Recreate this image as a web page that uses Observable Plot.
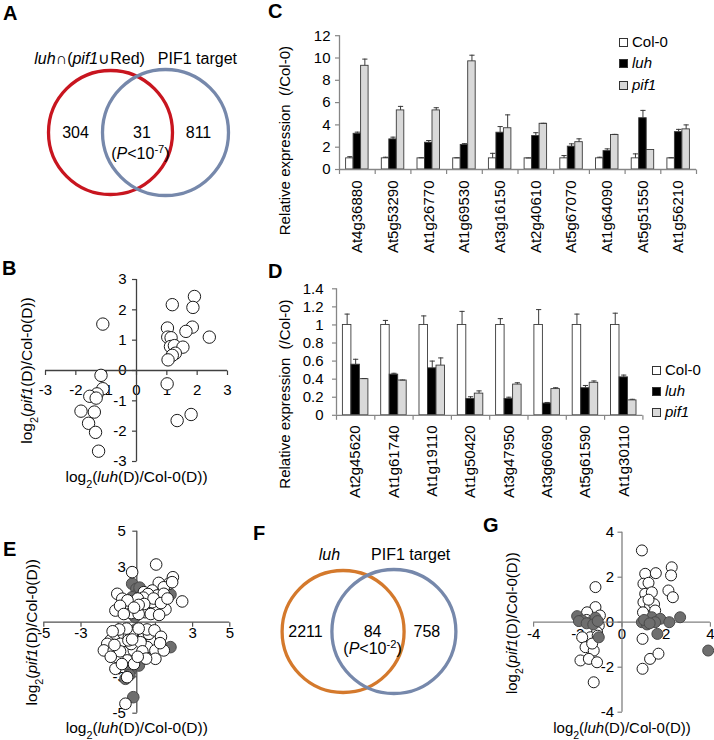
<!DOCTYPE html>
<html><head><meta charset="utf-8">
<script src="https://cdn.jsdelivr.net/npm/d3@7"></script>
<script src="https://cdn.jsdelivr.net/npm/@observablehq/plot@0.6"></script>
<style>
body{margin:0;background:#fff;font-family:"Liberation Sans",Arial,Helvetica,sans-serif;}
#fig{position:relative;width:714px;height:740px;overflow:hidden;background:#fff;}
.letter{position:absolute;font-weight:bold;font-size:20px;line-height:1;color:#000;}
.legend{position:absolute;font-size:15px;color:#000;}
.legend div{height:21.3px;line-height:21.3px;white-space:nowrap;}
.sw{display:inline-block;width:7px;height:7px;border:1px solid #333;margin-right:4px;vertical-align:0px;}
</style></head><body><div id="fig"></div>
<script>
// ---------------- DATA ----------------
// Panel A (Venn)
const vennA_sets = ["*luh*∩(*pif1*∪Red)", "PIF1 target"];
const vennA_counts = ["304", "31", "811"];
const vennA_p = "(*P*<10^-7^)";
// Panel F (Venn)
const vennF_sets = ["*luh*", "PIF1 target"];
const vennF_counts = ["2211", "84", "758"];
const vennF_p = "(*P*<10^-2^)";

// Bar series names
const seriesNames = ["Col-0", "luh", "pif1"];

// Panel C
const genesC = ["At4g36880","At5g53290","At1g26770","At1g69530","At3g16150","At2g40610","At5g67070","At1g64090","At5g51550","At1g56210"];
const colC     = [1, 1, 1, 1, 1, 1, 1, 1, 1, 1];
const colC_err = [0.15, 0.1, 0.05, 0.05, 0.45, 0.03, 0.25, 0.1, 0.4, 0.05];
const luhC     = [3.2, 2.7, 2.4, 2.2, 3.3, 3.0, 2.05, 1.65, 4.6, 3.35];
const luhC_err = [0.15, 0.2, 0.2, 0.12, 0.55, 0.3, 0.25, 0.2, 0.7, 0.25];
const pifC     = [9.3, 5.3, 5.3, 9.7, 3.7, 4.1, 2.45, 3.1, 1.75, 3.6];
const pifC_err = [0.6, 0.36, 0.24, 0.55, 1.2, 0.04, 0.3, 0.05, 0, 0.4];
const yTicksC = [0, 2, 4, 6, 8, 10, 12];

// Panel D
const genesD = ["At2g45620","At1g61740","At1g19110","At1g50420","At3g47950","At3g60690","At5g61590","At1g30110"];
const colD     = [1, 1, 1, 1, 1, 1, 1, 1];
const colD_err = [0.12, 0.05, 0.1, 0.15, 0.07, 0.17, 0.12, 0.13];
const luhD     = [0.56, 0.45, 0.52, 0.18, 0.18, 0.13, 0.30, 0.42];
const luhD_err = [0.06, 0.015, 0.08, 0.025, 0.02, 0.012, 0.03, 0.025];
const pifD     = [0.40, 0.385, 0.55, 0.24, 0.34, 0.29, 0.36, 0.165];
const pifD_err = [0.007, 0.005, 0.085, 0.03, 0.02, 0.015, 0.02, 0.012];
const yTicksD = [0, 0.2, 0.4, 0.6, 0.8, 1, 1.2, 1.4];

// Panel B scatter [log2 luh/Col, log2 pif1/Col]
const pointsB = [[-1.11,1.53],[1.18,2.17],[1.91,2.44],[1.86,2.08],[1.84,1.43],[1.63,1.29],[1.02,1.40],[1.03,1.10],[1.14,1.08],[2.40,1.10],[1.12,0.79],[1.25,0.82],[1.53,0.77],[1.28,0.57],[1.18,0.5],[1.04,0.35],[-1.17,-0.16],[1.01,-0.44],[-1.11,-0.6],[-1.3,-0.77],[-1.54,-0.85],[-1.33,-0.91],[-1.83,-1.34],[-1.39,-1.37],[1.34,-1.65],[1.8,-1.45],[-1.58,-1.74],[-1.35,-2.04],[-1.25,-2.66]];
const ticksB = [-3, -2, -1, 0, 1, 2, 3];

// Panel E scatter: open = not PIF1 target, filled = PIF1 target
const pointsE_open = [[-0.25,2.75],[1.04,3.17],[1.94,2.47],[1.72,2.11],[1.18,2.16],[1.45,1.92],[1.9,2.2],[0.83,1.74],[0.38,1.65],[-1.05,1.56],[-0.78,1.29],[0.56,1.29],[1.1,1.47],[1.45,1.56],[2.44,1.14],[-1.15,0.64],[-0.61,0.74],[-0.43,0.92],[0.29,0.82],[0.65,0.74],[1.0,0.82],[1.54,0.70],[0.2,1.19],[-0.25,1.1],[0.83,1.1],[0.6,1.55],[0.35,1.35],[0.05,1.3],[-0.5,1.2],[-0.9,0.9],[0.9,1.3],[1.3,1.05],[0.45,0.55],[-0.3,0.5],[0.75,0.45],[1.2,0.4],[0.1,0.45],[-0.7,0.45],[0.4,1.0],[0.1,0.95],[1.65,1.3],[-0.15,0.8],
[-1.41,-1.0],[-1.15,-0.64],[-0.7,-0.64],[-0.43,-0.82],[-0.88,-1.19],[-1.59,-1.19],[-1.77,-1.55],[-1.24,-1.55],[-0.7,-1.65],[0.38,-0.82],[0.83,-1.0],[0.56,-1.37],[1.0,-1.55],[1.45,-1.55],[1.0,-2.01],[-0.52,-2.1],[-0.16,-1.55],[-1.15,-2.56],[-0.52,-3.02],[-0.61,-4.48],[-0.25,-0.64],[0.65,-0.64],[-1.05,-1.92],[-0.8,-2.3],[-0.3,-1.2],[0.2,-1.1],[0.55,-0.4],[-0.55,-0.35],[-0.95,-0.4],[-1.3,-0.5],[0.95,-0.45],[1.3,-0.8],[0.3,-1.6],[-0.45,-1.0],[-0.9,-1.6],[-1.4,-1.9],[0.1,-0.35],[-0.15,-2.3],[0.5,-2.0],[-1.2,-1.25],[0.05,-1.9],[1.25,-1.15],[-0.25,-0.95]];
const pointsE_fill = [[-0.25,2.11],[-0.02,1.83],[0.05,1.56],[1.81,1.52],[-0.07,1.01],[0.02,0.64],[0.2,0.55],[-0.25,1.37],[0.15,1.9],[-0.1,0.3],[0.29,-0.55],[0.05,-1.0],[1.0,-0.64],[0.47,-1.83],[0.11,-2.38],[-0.34,-2.65],[-0.61,-3.11],[1.81,-1.37],[-0.19,-4.12],[0.02,-1.74],[-0.05,-0.4],[-0.15,-1.35],[0.3,-1.3],[-0.4,-2.9]];
const ticksE = [-5, -3, -1, 1, 3, 5];

// Panel G scatter
const pointsG_open = [[0.9,3.19],[1.05,2.15],[1.53,2.18],[2.25,2.44],[2.22,2.08],[0.97,1.71],[1.2,1.75],[2.1,1.41],[1.05,1.26],[1.35,1.33],[2.3,1.11],[0.97,0.89],[1.27,0.74],[1.45,0.8],[0.95,0.44],[1.5,0.52],[1.2,1.0],[0.93,-0.74],[1.27,-1.63],[1.65,-1.4],[0.93,-2.07],[-1.2,1.56],[-1.2,0.67],[-1.58,0.44],[-1.05,-0.15],[-1.13,-0.44],[-1.43,-0.67],[-1.8,-0.67],[-1.65,-1.11],[-1.28,-1.26],[-1.88,-1.7],[-1.5,-1.63],[-1.13,-1.78],[-1.28,-2.67],[-1.1,-0.6],[-1.35,-0.95],[-1.6,0.1],[-1.0,0.3]];
const pointsG_fill = [[-2.03,0.27],[-1.8,0.08],[-1.43,0],[-1.2,0.2],[-1.95,0.05],[-1.6,-0.05],[-1.3,-0.1],[-1.05,-0.67],[-1.1,0.05],[0.9,0],[1.13,-0.1],[1.35,0.22],[1.73,0.15],[2.14,0],[2.63,0.22],[1.6,-0.52],[3.9,-1.26],[1.0,0.1],[1.5,0.0],[1.25,-0.05]];
const ticksG = [-4, -2, 0, 2, 4];

const xTitle = "log~2~(*luh*(D)/Col-0(D))";
const yTitle = "log~2~(*pif1*(D)/Col-0(D))";
const barTitle = "Relative expression\u00a0 (/Col-0)";

// ---------------- HELPERS ----------------
const FONT = '"Liberation Sans", Arial, Helvetica, sans-serif';
const fig = document.getElementById("fig");
const NS = "http://www.w3.org/2000/svg";

function rich(root) {
  root.querySelectorAll("text").forEach(t => {
    const s = t.textContent;
    if (!/[*~^]/.test(s)) return;
    t.textContent = "";
    let it = false, sub = false, sup = false, buf = "";
    const flush = () => {
      if (!buf) return;
      const ts = document.createElementNS(NS, "tspan");
      ts.textContent = buf;
      if (it) ts.setAttribute("font-style", "italic");
      if (sub) { ts.setAttribute("font-size", "70%"); ts.setAttribute("baseline-shift", "sub"); }
      if (sup) { ts.setAttribute("font-size", "70%"); ts.setAttribute("baseline-shift", "super"); }
      t.appendChild(ts); buf = "";
    };
    for (const ch of s) {
      if (ch === "*") { flush(); it = !it; }
      else if (ch === "~") { flush(); sub = !sub; }
      else if (ch === "^") { flush(); sup = !sup; }
      else buf += ch;
    }
    flush();
  });
}
function place(node, left, top) {
  node.style.position = "absolute";
  node.style.left = left + "px";
  node.style.top = top + "px";
  fig.appendChild(node);
  rich(node);
}
function letter(ch, left, top) {
  const d = document.createElement("div");
  d.className = "letter"; d.textContent = ch;
  d.style.left = left + "px"; d.style.top = top + "px";
  fig.appendChild(d);
}
function legend(left, top, fills) {
  const d = document.createElement("div");
  d.className = "legend"; d.style.left = left + "px"; d.style.top = top + "px";
  d.innerHTML = seriesNames.map((s, i) =>
    `<div><span class="sw" style="background:${fills[i]}"></span>${i === 0 ? s : "<i>" + s + "</i>"}</div>`).join("");
  fig.appendChild(d);
}
const baseStyle = {fontFamily: FONT, fontSize: "15px", background: "transparent", overflow: "visible", color: "#000"};
const tickDown = {draw(c) { c.moveTo(0, 0); c.lineTo(0, 4.5); }};
const tickLeft = {draw(c) { c.moveTo(0, 0); c.lineTo(-4.5, 0); }};
const capSym = {draw(c) { c.moveTo(-2.6, 0); c.lineTo(2.6, 0); }};
const titleOpts = {textAnchor: "middle", lineAnchor: "middle", fill: "#000"};

function vennPanel(o) {
  const L = o.layout;
  return Plot.plot({
    width: o.W, height: o.H, margin: 0,
    x: {domain: [-o.W / 2 / L.unit, o.W / 2 / L.unit], axis: null},
    y: {domain: [-o.H / 2 / L.unit, o.H / 2 / L.unit], axis: null},
    style: {...baseStyle, fontSize: "16px"},
    marks: [
      ...o.sets.map((s, i) => Plot.dot([s], {x: L.centers[i], y: 0, r: L.radii[i], fill: "none", stroke: o.colors[i], strokeWidth: 3.3})),
      Plot.text(o.sets, {x: (d, i) => L.labelX[i], y: L.labelY, fill: "#000"}),
      Plot.text(o.counts, {x: (d, i) => L.countX[i], y: 0, fill: "#000"}),
      Plot.text([o.pval], {x: L.pX, y: L.pY, fill: "#000"})
    ]
  });
}

function barPanel(o) {
  const n = o.genes.length;
  const rows = [];
  o.genes.forEach((g, gi) => seriesNames.forEach((s, si) =>
    rows.push({gene: g, gi, si, value: o.values[si][gi], err: o.errors[si][gi]})));
  const bw = o.barFrac;
  const cx = d => d.gi + 0.5 + (d.si - 1) * bw;
  const withErr = rows.filter(d => d.err > 0);
  const grey = "#868686";
  return Plot.plot({
    width: o.W, height: o.H, marginLeft: o.mL, marginRight: o.mR, marginTop: o.mT, marginBottom: o.mB,
    x: {domain: [0, n], axis: null},
    y: {domain: o.yDomain, axis: null},
    style: baseStyle,
    marks: [
      Plot.rect(rows, {x1: d => cx(d) - bw / 2, x2: d => cx(d) + bw / 2, y1: 0, y2: "value",
        fill: d => o.fills[d.si], stroke: "#3a3a3a", strokeWidth: 0.9}),
      Plot.ruleX(withErr, {x: cx, y1: "value", y2: d => d.value + d.err, stroke: "#3a3a3a", strokeWidth: 1}),
      Plot.dot(withErr, {x: cx, y: d => d.value + d.err, symbol: capSym, fill: "none", stroke: "#3a3a3a", strokeWidth: 1}),
      Plot.ruleY([o.yDomain[0]], {stroke: grey, strokeWidth: 1.3}),
      Plot.ruleX([0], {stroke: grey, strokeWidth: 1.3}),
      Plot.dot(d3.range(n + 1), {x: d => d, y: o.yDomain[0], symbol: tickDown, fill: "none", stroke: grey, strokeWidth: 1.2}),
      Plot.dot(o.yTicks, {x: 0, y: d => d, symbol: tickLeft, fill: "none", stroke: grey, strokeWidth: 1.2}),
      Plot.text(o.yTicks, {x: 0, y: d => d, text: d => String(d), textAnchor: "end", dx: -o.yLabelGap, fill: "#000"}),
      Plot.text(o.genes, {x: (d, i) => i + 0.5, y: o.yDomain[0], rotate: -90, textAnchor: "end", dy: o.geneGap, fill: "#000"}),
      Plot.text([barTitle], {frameAnchor: "left", rotate: -90, dx: -o.titleDx, dy: o.titleDy, ...titleOpts})
    ]
  });
}

function scatterPanel(o) {
  const ax = o.axisColor;
  const layers = o.layers.map(l => Plot.dot(l.pts, {x: d => d[0], y: d => d[1], r: o.r,
    fill: l.fill, stroke: l.stroke, strokeWidth: 1}));
  return Plot.plot({
    width: o.W, height: o.H, marginLeft: o.mL, marginRight: o.mR, marginTop: o.mT, marginBottom: o.mB,
    x: {domain: o.domX, axis: null},
    y: {domain: o.domY, axis: null},
    style: baseStyle,
    marks: [
      Plot.text(o.ticksX, {x: d => d, y: 0, text: d => String(d), dy: o.xLabelDy, fill: "#000"}),
      Plot.text(o.ticksY, {x: 0, y: d => d, text: d => String(d), textAnchor: "end", dx: -o.yLabelDx, fill: "#000"}),
      Plot.ruleY([0], {stroke: ax, strokeWidth: 1.3}),
      Plot.ruleX([0], {stroke: ax, strokeWidth: 1.3}),
      Plot.dot(o.ticksX, {x: d => d, y: 0, symbol: tickDown, fill: "none", stroke: ax, strokeWidth: 1.2}),
      Plot.dot(o.ticksY, {x: 0, y: d => d, symbol: tickLeft, fill: "none", stroke: ax, strokeWidth: 1.2}),
      ...layers,
      Plot.text([xTitle], {frameAnchor: "bottom", dy: o.xTitleDy, fontSize: o.titleSize, ...titleOpts}),
      Plot.text([yTitle], {frameAnchor: "left", rotate: -90, dx: -o.yTitleDx, dy: o.yTitleDy, fontSize: o.titleSize, ...titleOpts})
    ]
  });
}

// ---------------- PANELS ----------------
// A
place(vennPanel({
  sets: vennA_sets, counts: vennA_counts, pval: vennA_p, colors: ["#c8151f", "#7688ab"],
  W: 275, H: 190,
  layout: {unit: 55, centers: [-0.5, 0.5], radii: [62, 63], labelX: [-0.88, 1.08], labelY: 1.345,
           countX: [-1.136, 0.073, 1.1], pX: 0.045, pY: -0.38}
}), 0, 37);
letter("A", 3, 2.5);

// F
place(vennPanel({
  sets: vennF_sets, counts: vennF_counts, pval: vennF_p, colors: ["#d4792c", "#7688ab"],
  W: 240, H: 200,
  layout: {unit: 50.8, centers: [-0.5, 0.5], radii: [61, 62], labelX: [-0.77, 0.83], labelY: 1.5,
           countX: [-1.24, 0.08, 1.15], pX: 0.08, pY: -0.335}
}), 247.9, 531);
letter("F", 253, 522.5);

// C
place(barPanel({
  genes: genesC, values: [colC, luhC, pifC], errors: [colC_err, luhC_err, pifC_err],
  fills: ["#ffffff", "#000000", "#d9d9d9"], barFrac: 0.21,
  yDomain: [0, 12], yTicks: yTicksC,
  W: 464, H: 262, mL: 89, mR: 18, mT: 35.2, mB: 93,
  yLabelGap: 9, geneGap: 11, titleDx: 54, titleDy: 38
}), 250, 0);
legend(619, 31, ["#ffffff", "#000000", "#d9d9d9"]);
letter("C", 268, 0.5);

// D
place(barPanel({
  genes: genesD, values: [colD, luhD, pifD], errors: [colD_err, luhD_err, pifD_err],
  fills: ["#ffffff", "#000000", "#d9d9d9"], barFrac: 0.222,
  yDomain: [0, 1.4], yTicks: yTicksD,
  W: 464, H: 248, mL: 86, mR: 71.6, mT: 26.3, mB: 95.2,
  yLabelGap: 13, geneGap: 10, titleDx: 51, titleDy: 42
}), 250, 262);
legend(652, 358.5, ["#ffffff", "#000000", "#d9d9d9"]);
letter("D", 268, 260.5);

// B
place(scatterPanel({
  layers: [{pts: pointsB, fill: "#ffffff", stroke: "#1a1a1a"}], r: 6.2, titleSize: 15.5,
  domX: [-3, 3], domY: [-3, 3], ticksX: ticksB, ticksY: ticksB, axisColor: "#404040",
  W: 240, H: 222, mL: 45, mR: 13, mT: 14, mB: 26,
  xLabelDy: 20, yLabelDx: 10, xTitleDy: 16, yTitleDx: 18, yTitleDy: 0
}), 0, 265);
letter("B", 2, 257.5);

// E
place(scatterPanel({
  layers: [{pts: pointsE_fill, fill: "#6e6e6e", stroke: "#4a4a4a"}, {pts: pointsE_open, fill: "#ffffff", stroke: "#1a1a1a"}], r: 5.8, titleSize: 15.5,
  domX: [-5, 5], domY: [-5, 5], ticksX: ticksE, ticksY: ticksE, axisColor: "#505050",
  W: 240, H: 230, mL: 43.3, mR: 10.7, mT: 20.7, mB: 27.3,
  xLabelDy: 11, yLabelDx: 11, xTitleDy: 14.5, yTitleDx: 12, yTitleDy: 10
}), 0, 510);
letter("E", 3, 538.5);

// G
place(scatterPanel({
  layers: [{pts: pointsG_open, fill: "#ffffff", stroke: "#1a1a1a"}, {pts: pointsG_fill, fill: "#6e6e6e", stroke: "#4a4a4a"}], r: 5.5, titleSize: 15,
  domX: [-4, 4], domY: [-4, 4], ticksX: ticksG, ticksY: ticksG, axisColor: "#808080",
  W: 234, H: 230, mL: 53.1, mR: 4.1, mT: 21.7, mB: 28.3,
  xLabelDy: 12, yLabelDx: 8, xTitleDy: 16, yTitleDx: 21.4, yTitleDy: 1
}), 480, 510);
letter("G", 483, 514.5);
</script>
</body></html>
